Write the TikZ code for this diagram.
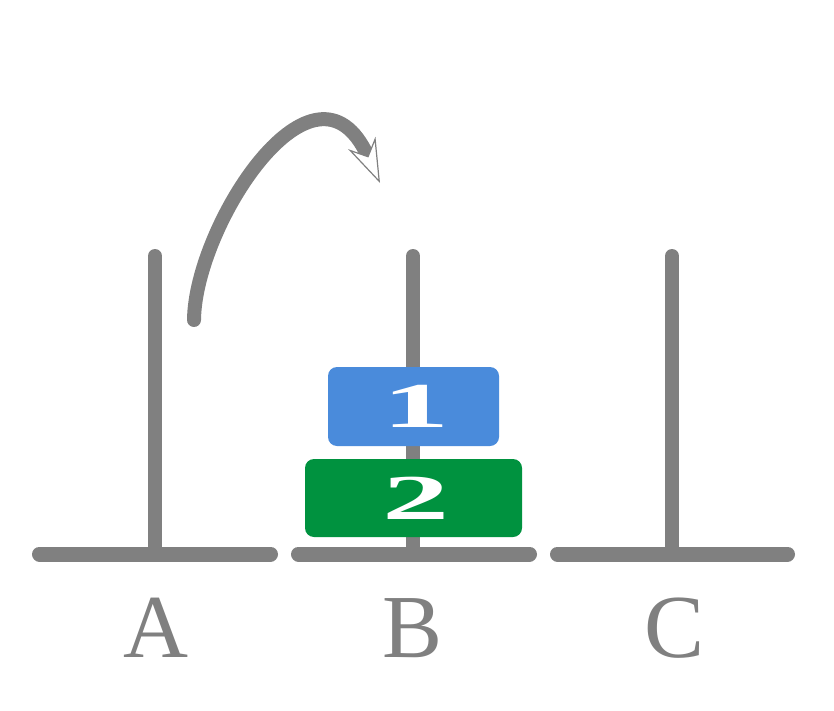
\documentclass[tikz,border=0pt]{standalone}
\usepackage{fontspec}
\setmainfont{Liberation Serif}
\usetikzlibrary{arrows.meta}

\definecolor{rodgray}{HTML}{808080}
\definecolor{discblue}{HTML}{4A8BDB}
\definecolor{discgreen}{HTML}{00923F}

\tikzset{
  rod/.style={line width=14pt,line cap=round,rodgray},
  base/.style={line width=15pt,line cap=round,rodgray},
  disc/.style={rounded corners=9pt,inner sep=0pt,text=white,
    font=\fontsize{64}{64}\selectfont\bfseries},
  peglabel/.style={text=rodgray,inner sep=0pt,
    font=\fontsize{90}{90}\selectfont},
  movearrow/.style={line width=14pt,line cap=round,rodgray,
    -{Stealth[open,length=44pt,width=30pt,line width=1.2pt,fill=white]}}
}

\begin{document}
\begin{tikzpicture}[x=1pt,y=-1pt]
    \useasboundingbox (0,0) rectangle (834,711);
    %--- 底座与柱子 ---
    \draw[base] (39.5,554) -- (270.5,554);
    \draw[base] (298.5,554) -- (529.5,554);
    \draw[base] (557.5,554) -- (787.5,554);
    \draw[rod] (155,256) -- (155,554);
    \draw[rod] (413,256) -- (413,554);
    \draw[rod] (672,256) -- (672,554);
    %--- 圆盘 ---
    \node[disc,fill=discblue,minimum width=171pt,minimum height=79pt]
      (d1) at (413.5,406.5) {\hspace{6pt}\scalebox{2.1}[1]{1}};
    \node[disc,fill=discgreen,minimum width=217pt,minimum height=78pt]
      (d2) at (413.5,498) {\hspace{6pt}\scalebox{2.1}[1]{2}};
    %--- 柱子名称 ---
    \node[peglabel] (pA) at (156,628) {A};
    \node[peglabel] (pB) at (413,628) {B};
    \node[peglabel] (pC) at (675,628) {C};
    %--- 移动箭头 ---
    \coordinate (from) at (194,320);
    \coordinate (to) at (380,183);
    \draw[movearrow] (from) .. controls (195,225) and (315,40) .. (to);
  \end{tikzpicture}
\end{document}
